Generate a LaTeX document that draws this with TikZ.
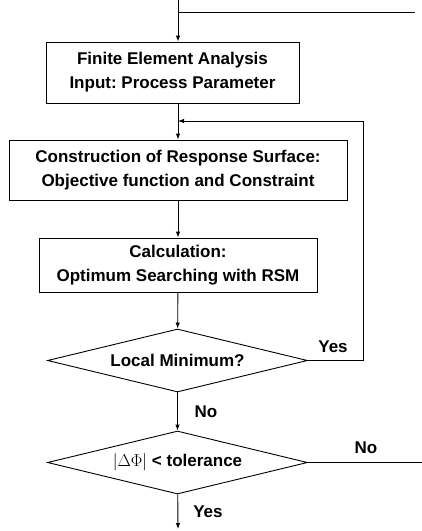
\documentclass[tikz,border=0pt]{standalone}
\usepackage{fontspec}
\setmainfont{Liberation Sans}
\usetikzlibrary{shapes.geometric,arrows.meta}

\tikzset{
    box/.style={draw, line width=0.9pt, align=center, inner sep=2pt},
    test/.style={draw, line width=0.9pt, shape=diamond, aspect=4.1, inner sep=1pt,
        minimum width=260pt, minimum height=63pt},
    link/.style={line width=0.9pt},
    >={Latex[length=6pt,width=4.5pt]}
}

\begin{document}
\frenchspacing
\begin{tikzpicture}[x=1pt, y=-1pt, font=\fontsize{17}{24}\selectfont\bfseries]

    \useasboundingbox (0,0) rectangle (422,531);

    \node[box, minimum width=253pt, minimum height=61pt] (fea) at (172.5, 72.5) {Finite Element Analysis\\Input: Process Parameter};
    \node[box, minimum width=338pt, minimum height=60pt] (rsm) at (178, 170) {Construction of Response Surface:\\Objective function and Constraint};
    \node[box, minimum width=278pt, minimum height=54pt] (calc) at (178, 265) {Calculation:\\Optimum Searching with RSM};
    \node[test] (locmin) at (177.5, 360.5) {Local Minimum?};
    \node[test] (tol) at (177.5, 462.5) {$\left|\Delta\Phi\right|$ < tolerance};

    \node (yes1) at (333, 347) {Yes};
    \node (no1) at (206, 412) {No};
    \node (no2) at (366, 448) {No};
    \node (yes2) at (208, 512) {Yes};

    \coordinate (top) at (178, 0);
    \coordinate (loop) at (415, 12);
    \coordinate (back) at (363, 121);
    \coordinate (exit) at (422, 462.5);
    \coordinate (out) at (178, 529);

    \draw [link] (top |- loop) -- (loop);
    \draw [link, ->] (top) -- (top |- fea.north);
    \draw [link, ->] (top |- fea.south) -- (rsm.north);
    \draw [link, ->] (locmin.east) -| (back) -- (rsm.north |- back);
    \draw [link, ->] (rsm) -- (calc);
    \draw [link, ->] (calc) -- (locmin);
    \draw [link, ->] (locmin) -- (tol);
    \draw [link] (tol.east) -- (exit);
    \draw [link, ->] (tol) -- (out);

\end{tikzpicture}
\end{document}
